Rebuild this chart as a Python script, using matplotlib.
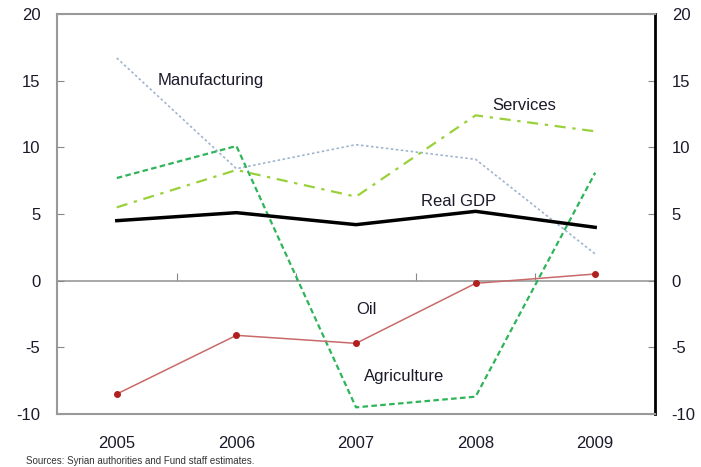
import numpy as np
import matplotlib
matplotlib.use('Agg')
import matplotlib.pyplot as plt

plt.rcParams['font.family'] = ['Liberation Sans', 'DejaVu Sans']
plt.rcParams['axes.unicode_minus'] = False

years = ['2005', '2006', '2007', '2008', '2009']
manufacturing = [16.7, 8.4, 10.2, 9.1, 2.0]
agriculture = [7.7, 10.1, -9.5, -8.7, 8.1]
services = [5.5, 8.3, 6.3, 12.4, 11.2]
real_gdp = [4.5, 5.1, 4.2, 5.2, 4.0]
oil = [-8.5, -4.1, -4.7, -0.2, 0.5]
yticks = [20, 15, 10, 5, 0, -5, -10]

x = np.arange(len(years))

fig = plt.figure(figsize=(7.01, 4.67), dpi=100)
ax = fig.add_axes([57 / 701, 1 - 414 / 467, (655 - 57) / 701, 400 / 467])

ax.plot(x, manufacturing, color='#9fb4cf', lw=1.2, ls=(0, (1.5, 1.5)))
ax.plot(x, agriculture, color='#2fb45a', lw=1.6, ls=(0, (2.5, 1.5)))
ax.plot(x, services, color='#9ad13a', lw=1.6, ls=(0, (5, 3, 1.5, 3)))
ax.plot(x, real_gdp, color='black', lw=2.5)
ax.plot(x, oil, color='#c86a6a', lw=1.1, marker='o', ms=4,
        mfc='#b02020', mec='#b02020')

ax.set_xlim(-0.5, len(years) - 0.5)
ax.set_ylim(-10, 20)
ax.set_yticks(yticks)
ax.set_xticks(x)
ax.set_xticklabels(years)
ax.tick_params(axis='x', length=0, pad=16, labelsize=12, labelcolor='#1a1a2a')
ax.tick_params(axis='y', direction='in', length=5, labelsize=12, pad=12,
               color='#888888', right=True, labelright=True, labelcolor='#1a1a2a')

for side in ['left', 'top', 'bottom']:
    ax.spines[side].set_color('#999999')
    ax.spines[side].set_linewidth(1.5)
ax.spines['right'].set_color('black')
ax.spines['right'].set_linewidth(2)

# zero line with category separators
sec = ax.secondary_xaxis(1 / 3)
sec.set_xticks(x[:-1] + 0.5)
sec.set_xticklabels([])
sec.tick_params(direction='in', length=6, color='#888888')
sec.spines['bottom'].set_color('#999999')
sec.spines['bottom'].set_linewidth(1.2)

ax.text(0.34, 15, 'Manufacturing', fontsize=12, va='center', color='#1a1a2a')
ax.text(3.14, 13.1, 'Services', fontsize=12, va='center', color='#1a1a2a')
ax.text(2.54, 5.95, 'Real GDP', fontsize=12, va='center', color='#1a1a2a')
ax.text(2.0, -2.2, 'Oil', fontsize=12, va='center', color='#1a1a2a')
ax.text(2.07, -7.2, 'Agriculture', fontsize=12, va='center', color='#1a1a2a')

fig.text(26 / 701, 1 - 461 / 467, 'Sources: Syrian authorities and Fund staff estimates.',
         fontsize=7, va='center', color='#333333')

fig.savefig('out.png', dpi=100)
